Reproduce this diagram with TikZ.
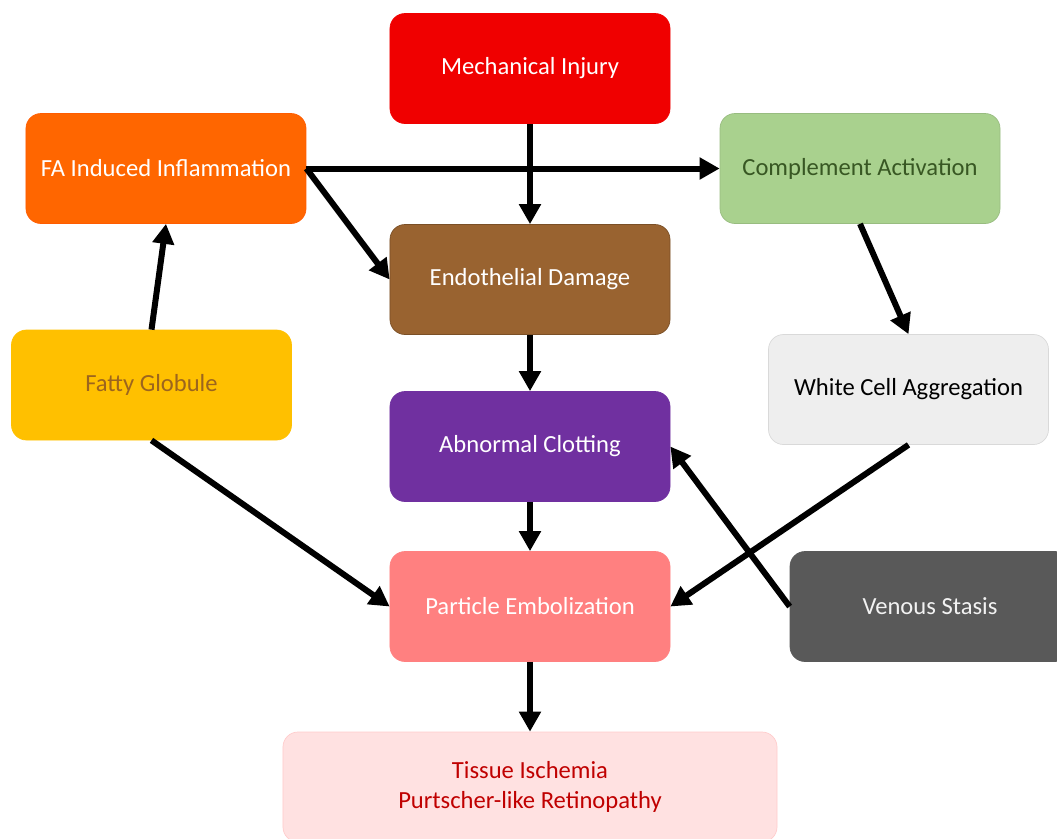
\documentclass[tikz,border=0pt]{standalone}
\usepackage{fontspec}
\setmainfont{Carlito}
\usepackage{tikz}
\usetikzlibrary{arrows.meta}
\definecolor{mechred}{RGB}{240,0,0}
\definecolor{inflamorange}{RGB}{255,102,0}
\definecolor{complgreen}{RGB}{169,209,142}
\definecolor{compltext}{RGB}{56,87,35}
\definecolor{endobrown}{RGB}{153,99,48}
\definecolor{fattygold}{RGB}{255,192,0}
\definecolor{fattytext}{RGB}{156,101,30}
\definecolor{whitegray}{RGB}{238,238,238}
\definecolor{clotpurple}{RGB}{112,48,160}
\definecolor{embolpink}{RGB}{255,128,128}
\definecolor{venousgray}{RGB}{89,89,89}
\definecolor{tissuepink}{RGB}{255,225,225}
\definecolor{tissuetext}{RGB}{192,0,0}
\tikzstyle{block} = [rectangle, rounded corners=0.3cm, minimum width=5.6cm, minimum height=2.2cm, text centered, align=center, font=\fontsize{14}{17}\selectfont]
\tikzstyle{arrow} = [line width=0.12cm, -{Triangle[length=0.4cm,width=0.42cm]}]

\begin{document}
\begin{tikzpicture}[node distance=2cm]
    \useasboundingbox (-10.6,1.37) rectangle (10.54,-15.39);
    \node (mech) [block, fill=mechred, draw=mechred, text=white] {Mechanical Injury};
    \node (endo) [block, fill=endobrown, draw=endobrown!80!black, text=white, below of=mech, yshift=-2.22cm] {Endothelial Damage};
    \node (clot) [block, fill=clotpurple, draw=clotpurple, text=white, below of=endo, yshift=-1.34cm] {Abnormal Clotting};
    \node (embol) [block, fill=embolpink, draw=embolpink, text=white, below of=clot, yshift=-1.2cm] {Particle Embolization};
    \node (tissue) [block, minimum width=9.88cm, fill=tissuepink, draw=embolpink!40, text=tissuetext, below of=embol, yshift=-1.61cm] {Tissue Ischemia\\Purtscher-like Retinopathy};
    \node (inflam) [block, fill=inflamorange, draw=inflamorange!90!red, text=white, below of=mech, xshift=-7.28cm] {FA Induced Inflammation};
    \node (compl) [block, fill=complgreen, draw=complgreen!90!black, text=compltext, below of=mech, xshift=6.6cm] {Complement Activation};
    \node (fatty) [block, fill=fattygold, draw=fattygold, text=fattytext, below of=inflam, xshift=-0.29cm, yshift=-2.33cm] {Fatty Globule};
    \node (white) [block, fill=whitegray, draw=black!15, text=black, below of=compl, xshift=0.97cm, yshift=-2.42cm] {White Cell Aggregation};
    \node (venous) [block, fill=venousgray, draw=venousgray, text=black!5, right of=embol, xshift=6cm] {Venous Stasis};
    \draw [arrow] (mech.south) -- (endo.north);
    \draw [arrow] (endo.south) -- (clot.north);
    \draw [arrow] (clot.south) -- (embol.north);
    \draw [arrow] (embol.south) -- (tissue.north);
    \draw [arrow] (inflam.east) -- (compl.west);
    \draw [arrow] (inflam.east) -- (endo.west);
    \draw [arrow] (fatty.north) -- (inflam.south);
    \draw [arrow] (fatty.south) -- (embol.west);
    \draw [arrow] (compl.south) -- (white.north);
    \draw [arrow] (white.south) -- (embol.east);
    \draw [arrow] (venous.west) -- (clot.east);
\end{tikzpicture}
\end{document}
